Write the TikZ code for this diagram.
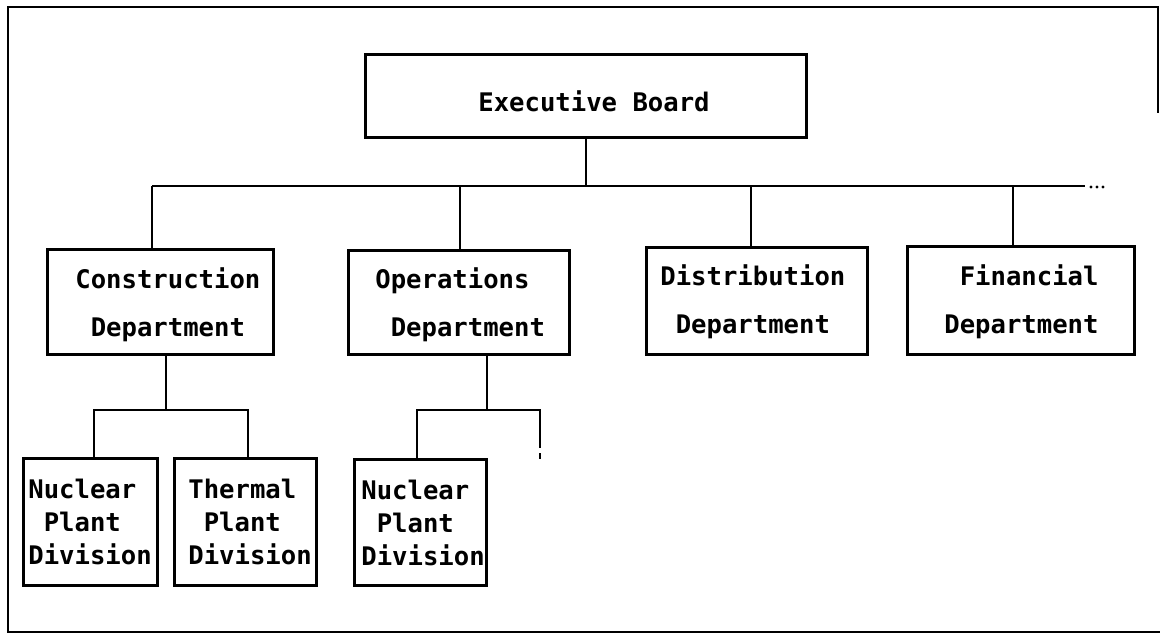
\documentclass[tikz,border=0pt]{standalone}
\usepackage{fontspec}
\newfontfamily\typefont{DejaVu Sans Mono}
\begin{document}
\begin{tikzpicture}[x=0.5pt,y=-0.5pt,
  orgbox/.style 2 args={draw, line width=1.5pt, inner sep=0pt, anchor=north west,
    minimum width=#1*0.5pt, minimum height=#2*0.5pt},
  depttext/.style={anchor=base west, inner sep=0pt, align=left,
    font=\typefont\bfseries\fontsize{12.8pt}{24pt}\selectfont},
  divtext/.style={anchor=base west, inner sep=0pt, align=left,
    font=\typefont\bfseries\fontsize{12.8pt}{16.5pt}\selectfont},
  wire/.style={line width=1.1pt},
  frame/.style={line width=1.2pt}]
\useasboundingbox (0,0) rectangle (1160,635);

% outer frame
\draw[frame] (1158,113) -- (1158,7) -- (8,7) -- (8,632) -- (1160,632);

% boxes
\node[orgbox={441}{83}]  (exec) at (364,53)  {};
\node[orgbox={226}{105}] (con)  at (46,248)  {};
\node[orgbox={221}{104}] (ops)  at (347,249) {};
\node[orgbox={221}{107}] (dis)  at (645,246) {};
\node[orgbox={227}{108}] (fin)  at (906,245) {};
\node[orgbox={134}{127}] (nuca) at (22,457)  {};
\node[orgbox={142}{127}] (ther) at (173,457) {};
\node[orgbox={132}{126}] (nucb) at (353,458) {};

% labels (anchored at the baseline of the last line)
\node[depttext] (execT) at (478,112) {Executive Board};
\node[depttext] (conT)  at (75,337)  {Construction\\\phantom{x}Department};
\node[depttext] (opsT)  at (375,337) {Operations\\\phantom{x}Department};
\node[depttext] (disT)  at (660,334) {Distribution\\\phantom{x}Department};
\node[depttext] (finT)  at (944,334) {\phantom{x}Financial\\Department};
\node[divtext]  (nucaT) at (28,564)  {Nuclear\\\phantom{x}Plant\\Division};
\node[divtext]  (therT) at (188,564) {Thermal\\\phantom{x}Plant\\Division};
\node[divtext]  (nucbT) at (361,565) {Nuclear\\\phantom{x}Plant\\Division};

% main bus
\coordinate (busL) at (152,186);
\coordinate (busR) at (1085,186);
\coordinate (dOps) at (460,186);
\coordinate (dDis) at (751,186);
\coordinate (dFin) at (1013,186);
\draw[wire] (exec.south) -- (exec.south |- busL);
\draw[wire] (busL) -- (busR);
\draw[wire] (busL) -- (busL |- con.north);
\draw[wire] (dOps) -- (dOps |- ops.north);
\draw[wire] (dDis) -- (dDis |- dis.north);
\draw[wire] (dFin) -- (dFin |- fin.north);
\foreach \px in {1091,1097,1103}
  \fill (\px,187) circle[radius=0.8pt];

% construction sub-bus
\coordinate (cs)  at (166,410);
\coordinate (csL) at (94,410);
\coordinate (csR) at (248,410);
\draw[wire] (cs |- con.south) -- (cs);
\draw[wire] (csL |- nuca.north) -- (csL) -- (csR) -- (csR |- ther.north);

% operations sub-bus
\coordinate (os)  at (487,410);
\coordinate (osL) at (417,410);
\coordinate (osR) at (540,410);
\coordinate (osEnd) at (540,448);
\coordinate (osDotA) at (540,453);
\coordinate (osDotB) at (540,459);
\draw[wire] (os |- ops.south) -- (os);
\draw[wire] (osL |- nucb.north) -- (osL) -- (osR) -- (osEnd);
\draw[wire] (osDotA) -- (osDotB);
\end{tikzpicture}
\end{document}
